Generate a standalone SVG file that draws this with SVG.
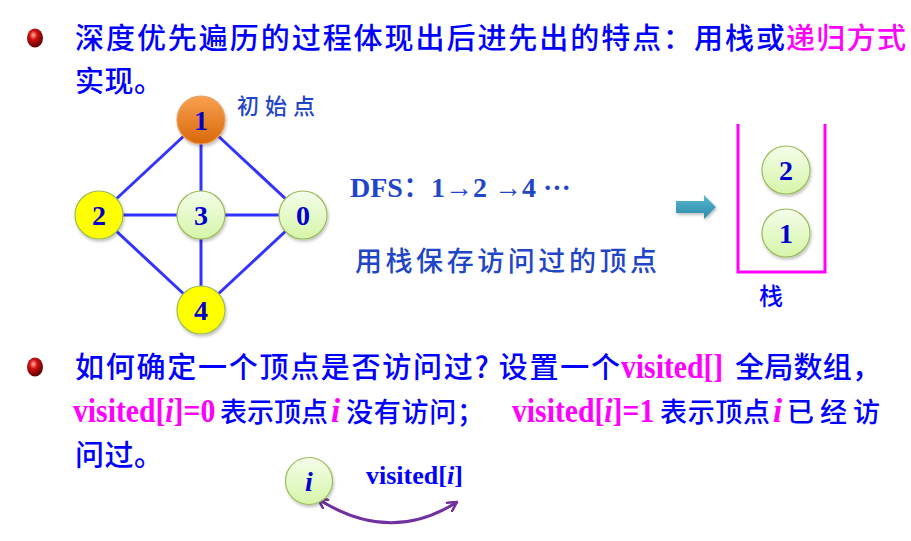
<svg xmlns="http://www.w3.org/2000/svg" width="911" height="541" viewBox="0 0 911 541">
<defs>
<radialGradient id="ball" cx="0.4" cy="0.35" r="0.7">
<stop offset="0" stop-color="#ffb0a0"/><stop offset="0.35" stop-color="#d01010"/><stop offset="1" stop-color="#500000"/>
</radialGradient>
<linearGradient id="orange" x1="0" y1="0" x2="0" y2="1">
<stop offset="0" stop-color="#f9a050"/><stop offset="1" stop-color="#d8680a"/>
</linearGradient>
<linearGradient id="green" x1="0" y1="0" x2="0" y2="1">
<stop offset="0" stop-color="#f4fdea"/><stop offset="1" stop-color="#d6f5a8"/>
</linearGradient>
<linearGradient id="teal" x1="0" y1="0" x2="0" y2="1">
<stop offset="0" stop-color="#5ab8d0"/><stop offset="1" stop-color="#2a8aa8"/>
</linearGradient>
<filter id="sh" x="-30%" y="-30%" width="160%" height="160%">
<feDropShadow dx="1" dy="2" stdDeviation="1.5" flood-color="#000" flood-opacity="0.25"/>
</filter>
<marker id="ah" viewBox="0 0 12 12" refX="10" refY="6" markerWidth="12" markerHeight="12" markerUnits="userSpaceOnUse" orient="auto-start-reverse">
<path d="M1,1 L10,6 L1,11" fill="none" stroke="#7030a0" stroke-width="2.5" stroke-linecap="round" stroke-linejoin="round"/>
</marker>
</defs>
<style>
.cjk{font-family:"Noto Sans CJK SC","Noto Sans CJK TC",sans-serif;font-weight:500;}
.t{font-size:29px;fill:#0000ff;}
.t2{font-size:27px;fill:#0000ff;}
.pk{fill:#ff00ff;}
.v{font-family:"Liberation Serif",serif;font-weight:bold;font-size:33px;fill:#ff00ff;}
.num{font-family:"Liberation Serif",serif;font-weight:bold;font-size:28px;fill:#0000cc;text-anchor:middle;}
.edge{stroke:#3333ff;stroke-width:3;}
.g{fill:url(#green);stroke:#9bbb59;stroke-width:1.2;filter:url(#sh);}
.y{fill:#ffff00;stroke:#9bbb59;stroke-width:1.2;filter:url(#sh);}
.o{fill:url(#orange);stroke:#e8a060;stroke-width:1.2;filter:url(#sh);}
.blue2{fill:#1f45c8;}
</style>
<rect width="911" height="541" fill="#ffffff"/>

<!-- bullets -->
<ellipse cx="35" cy="38" rx="8" ry="9.5" fill="url(#ball)"/>
<ellipse cx="35" cy="367" rx="8" ry="9.5" fill="url(#ball)"/>

<!-- top text -->
<text class="cjk t" x="75" y="49" textLength="710" lengthAdjust="spacing">深度优先遍历的过程体现出后进先出的特点：用栈或</text>
<text class="cjk t pk" x="786" y="49" textLength="120" lengthAdjust="spacing">递归方式</text>
<text class="cjk t" x="75" y="92" textLength="88" lengthAdjust="spacing">实现。</text>

<!-- connectors -->
<g id="edges">
<line class="edge" x1="201" y1="120" x2="99" y2="215"/>
<line class="edge" x1="201" y1="120" x2="201" y2="215"/>
<line class="edge" x1="201" y1="120" x2="303" y2="215"/>
<line class="edge" x1="99" y1="215" x2="303" y2="215"/>
<line class="edge" x1="99" y1="215" x2="201" y2="310"/>
<line class="edge" x1="201" y1="215" x2="201" y2="310"/>
<line class="edge" x1="303" y1="215" x2="201" y2="310"/>
<path d="M318,499 Q390,545 457,502" fill="none" stroke="#7030a0" stroke-width="3" marker-start="url(#ah)" marker-end="url(#ah)"/>
</g>

<g id="n1"><circle class="o" cx="201" cy="120" r="24"/><text class="num" x="201" y="130">1</text></g>
<g id="n2"><circle class="y" cx="99" cy="215" r="24"/><text class="num" x="99" y="225">2</text></g>
<g id="n3"><circle class="g" cx="201" cy="215" r="24"/><text class="num" x="201" y="225">3</text></g>
<g id="n0"><circle class="g" cx="303" cy="215" r="24"/><text class="num" x="303" y="225">0</text></g>
<g id="n4"><circle class="y" cx="201" cy="310" r="24"/><text class="num" x="201" y="320">4</text></g>

<text class="cjk blue2" x="237" y="114" font-size="22" textLength="78" lengthAdjust="spacing">初始点</text>

<text x="350" y="197" font-family="Liberation Serif, serif" font-weight="bold" font-size="28" class="blue2">DFS<tspan class="cjk" font-weight="normal">：</tspan>1→2 →4 ···</text>
<text class="cjk blue2" x="355" y="271" font-size="27" textLength="302" lengthAdjust="spacing">用栈保存访问过的顶点</text>

<!-- arrow -->
<g id="arrow" filter="url(#sh)"><path d="M676,201 L704,201 L704,195 L716,207 L704,219 L704,213 L676,213 Z" fill="url(#teal)"/></g>

<!-- stack -->
<g id="stack">
<path d="M738,124 L738,272 L825,272 L825,124" fill="none" stroke="#ff00ff" stroke-width="3"/>
</g>
<g id="s2"><circle class="g" cx="786" cy="170" r="24"/><text class="num" x="786" y="180">2</text></g>
<g id="s1"><circle class="g" cx="786" cy="233" r="24"/><text class="num" x="786" y="243">1</text></g>
<text class="cjk" x="759" y="305" font-size="24" fill="#0000ff">栈</text>

<!-- bottom text -->
<text class="cjk t" x="75" y="378" textLength="545" lengthAdjust="spacing">如何确定一个顶点是否访问过? 设置一个</text>
<text class="v" transform="translate(621,378) scale(0.9,1)">visited[]</text>
<text class="cjk t" x="735" y="378" textLength="146" lengthAdjust="spacing">全局数组，</text>

<text class="v" transform="translate(73,422) scale(0.9,1)">visited[<tspan font-style="italic">i</tspan>]=0</text>
<text class="cjk t2" x="220" y="422" textLength="108" lengthAdjust="spacing">表示顶点</text>
<text class="v" x="331" y="422" font-size="30" font-style="italic" fill="#0000ff">i</text>
<text class="cjk t2" x="346" y="422" textLength="138" lengthAdjust="spacing">没有访问；</text>
<text class="v" transform="translate(512,422) scale(0.9,1)">visited[<tspan font-style="italic">i</tspan>]=1</text>
<text class="cjk t2" x="660" y="422" textLength="110" lengthAdjust="spacing">表示顶点</text>
<text class="v" x="773" y="422" font-size="30" font-style="italic" fill="#0000ff">i</text>
<text class="cjk t2" x="787" y="422" textLength="93" lengthAdjust="spacing">已经访</text>
<text class="cjk t" x="75" y="466" textLength="88" lengthAdjust="spacing">问过。</text>

<g id="ni"><circle class="g" cx="309" cy="481" r="23.5"/><text x="309" y="491" font-family="Liberation Serif, serif" font-weight="bold" font-style="italic" font-size="28" fill="#0000cc" text-anchor="middle">i</text></g>
<text x="366" y="484" font-family="Liberation Serif, serif" font-weight="bold" font-size="26" fill="#0000ff">visited[<tspan font-style="italic">i</tspan>]</text>
</svg>
